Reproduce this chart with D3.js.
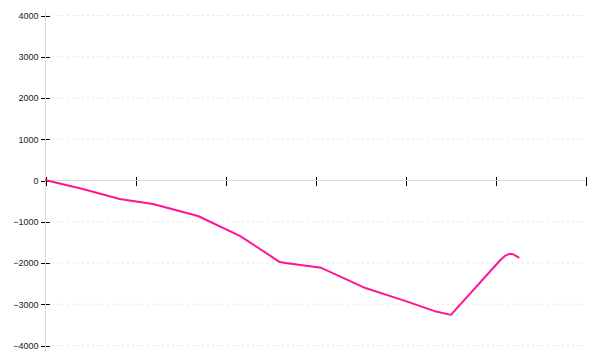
<!DOCTYPE html>
<html>
<head>
<meta charset="utf-8">
<script src="https://cdn.jsdelivr.net/npm/d3@7"></script>
<style>
  body { margin: 0; background: #fff; }
  svg { display: block; font-family: "DejaVu Sans", sans-serif; }
</style>
</head>
<body>
<div id="chart"></div>
<script>
// data (x in tick units, y values)
var xValues = [0, 0.42, 0.83, 1.2, 1.7, 2.17, 2.61, 2.67, 3.07, 3.56, 4.0, 4.33, 4.51, 5.06, 5.11, 5.16, 5.2, 5.27];
var yValues = [0, -218, -460, -580, -873, -1360, -1990, -2010, -2130, -2620, -2930, -3180, -3270, -1940, -1840, -1790, -1800, -1890];
var xTicks = [0, 1, 2, 3, 4, 5, 6];
var yTicks = [-4000, -3000, -2000, -1000, 0, 1000, 2000, 3000, 4000];

var width = 600, height = 360;
var data = xValues.map(function(d, i) { return { x: d, y: yValues[i] }; });

var svg = d3.select("#chart").append("svg")
  .attr("width", width)
  .attr("height", height);

var x = d3.scaleLinear().domain([0, 6]).range([45, 585]);
var y = d3.scaleLinear().domain([-4000, 4000]).range([345, 15]);

// dotted grid
svg.append("g")
  .selectAll("line")
  .data(yTicks.filter(function(d) { return d !== 0; }))
  .enter()
  .append("line")
  .attr("x1", 52)
  .attr("x2", 585)
  .attr("y1", function(d) { return y(d) + 0.5; })
  .attr("y2", function(d) { return y(d) + 0.5; })
  .attr("stroke", "#e6e6e6")
  .attr("stroke-dasharray", "2,3");

// y axis
var yAxis = svg.append("g")
  .attr("transform", "translate(45.5,0.5)")
  .call(d3.axisLeft(y).tickValues(yTicks).tickSize(5).tickPadding(2).tickFormat(d3.format("d")));
yAxis.select(".domain").remove();
yAxis.selectAll(".tick line").attr("x1", 4).attr("stroke", "#000").attr("shape-rendering", "crispEdges");
yAxis.selectAll(".tick text")
  .style("font-size", "9px")
  .style("fill", "#222")
  .text(function(d) { return d < 0 ? "\u2212" + Math.abs(d) : d; });
svg.append("line")
  .attr("x1", 45.5).attr("x2", 45.5)
  .attr("y1", 10).attr("y2", 352)
  .attr("stroke", "#dcdcdc");

// x axis
var xAxis = svg.append("g")
  .attr("transform", "translate(0.5," + (y(0) + 0.5) + ")")
  .call(d3.axisBottom(x).tickValues(xTicks).tickSize(5).tickFormat(""));
xAxis.select(".domain").remove();
xAxis.selectAll(".tick line").attr("y1", -4).attr("stroke", "#000").attr("shape-rendering", "crispEdges");
svg.append("line")
  .attr("x1", 45).attr("x2", 585)
  .attr("y1", y(0) + 0.5).attr("y2", y(0) + 0.5)
  .attr("stroke", "#dcdcdc");

// line
var line = d3.line()
  .x(function(d) { return x(d.x); })
  .y(function(d) { return y(d.y); });

svg.append("path")
  .datum(data)
  .attr("d", line)
  .attr("fill", "none")
  .attr("stroke", "#ff1493")
  .attr("stroke-width", 2)
  .attr("stroke-linejoin", "round");
</script>
</body>
</html>
